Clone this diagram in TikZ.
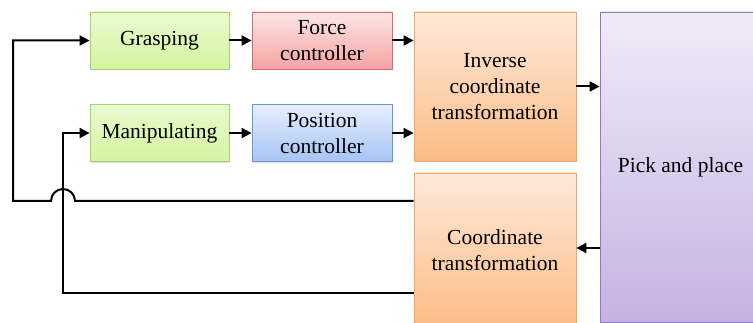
\documentclass[tikz,border=0pt]{standalone}
\usepackage{fontspec}
\setmainfont{Liberation Serif}
\usetikzlibrary{arrows.meta,shadows}
\definecolor{grnT}{HTML}{EAFAD0}\definecolor{grnB}{HTML}{D3F4A0}\definecolor{grnD}{HTML}{AACF72}
\definecolor{redT}{HTML}{FDE6E6}\definecolor{redB}{HTML}{F5A3A3}\definecolor{redD}{HTML}{D76A6C}
\definecolor{bluT}{HTML}{E6EFFF}\definecolor{bluB}{HTML}{A6C4F3}\definecolor{bluD}{HTML}{6E96D4}
\definecolor{orgT}{HTML}{FFE9DA}\definecolor{orgB}{HTML}{FBBC86}\definecolor{orgD}{HTML}{F4A56A}
\definecolor{purT}{HTML}{F0EBF8}\definecolor{purB}{HTML}{C6B2E2}\definecolor{purD}{HTML}{9079C2}
\begin{document}
\begin{tikzpicture}[x=1pt,y=1pt,
  box/.style={draw, line width=0.8pt, align=center, inner sep=0pt,
    font=\fontsize{21.5}{26}\selectfont,
    drop shadow={shadow xshift=1pt, shadow yshift=-1.2pt, opacity=0.25}},
  grnbox/.style={box, draw=grnD, top color=grnT, bottom color=grnB},
  redbox/.style={box, draw=redD, top color=redT, bottom color=redB},
  blubox/.style={box, draw=bluD, top color=bluT, bottom color=bluB},
  orgbox/.style={box, draw=orgD, top color=orgT, bottom color=orgB},
  purbox/.style={box, draw=purD, top color=purT, bottom color=purB},
  small/.style={minimum width=139pt, minimum height=57pt},
  arr/.style={line width=2pt, -{Triangle[length=10pt,width=10pt]}},
  wire/.style={line width=2pt}]
\useasboundingbox (0,0) rectangle (753,-323);

% controller chain
\node[grnbox, small] (grasp) at (159.5,-40.5) {Grasping};
\node[redbox, small, minimum width=140pt] (force) at (322,-40.5) {Force\\controller};
\node[grnbox, small] (manip) at (159.5,-133) {Manipulating};
\node[blubox, small, minimum width=140pt] (pos) at (322,-133) {Position\\controller};

% transformations and plant
\node[orgbox, minimum width=162pt, minimum height=149pt] (inv) at (495,-86.5)
  {Inverse\\coordinate\\transformation};
\node[orgbox, minimum width=162pt, minimum height=154pt] (coord) at (495,-250)
  {Coordinate\\transformation};
\node[purbox, minimum width=161pt, minimum height=310pt] (pick) at (680.5,-167)
  {Pick and place};

% forward path
\draw[arr] (grasp) -- (force);
\draw[arr] (manip) -- (pos);
\draw[arr] (force.east) -- (inv.west |- force.east);
\draw[arr] (pos.east) -- (inv.west |- pos.east);
\draw[arr] (inv.east) -- (pick.west |- inv.east);
\draw[arr] (pick.west |- 0,-248) -- (coord.east |- 0,-248);

% feedback loops
\coordinate (fbA) at (coord.west |- 0,-201);
\coordinate (fbB) at (coord.west |- 0,-293);
\draw[arr] (fbA) -- (75,-201) arc (0:180:12) -- (13,-201) -- (13,-40.5) -- (grasp.west);
\draw[arr] (fbB) -- (63,-293) -- (63,-133) -- (manip.west);
\end{tikzpicture}
\end{document}
